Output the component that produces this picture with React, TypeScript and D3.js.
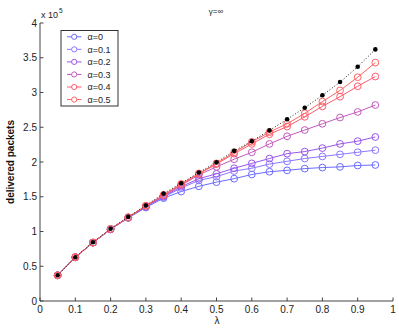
import React from 'react';
import * as d3 from 'd3';

const lambdas = [0.05, 0.1, 0.15, 0.2, 0.25, 0.3, 0.35, 0.4, 0.45, 0.5, 0.55, 0.6, 0.65, 0.7, 0.75, 0.8, 0.85, 0.9, 0.95];

const alphaLabels = ['α=0', 'α=0.1', 'α=0.2', 'α=0.3', 'α=0.4', 'α=0.5'];
const alphaColors = ['#6b6bff', '#8a78ff', '#9a55e8', '#c25abd', '#ff5a6e', '#ff6262'];

// delivered packets (x 10^5)
const alpha0 = [0.37, 0.63, 0.84, 1.03, 1.195, 1.345, 1.48, 1.575, 1.65, 1.71, 1.76, 1.82, 1.86, 1.88, 1.905, 1.92, 1.93, 1.95, 1.957];
const alpha01 = [0.37, 0.63, 0.84, 1.03, 1.2, 1.355, 1.495, 1.625, 1.735, 1.79, 1.87, 1.91, 1.97, 2.01, 2.05, 2.08, 2.11, 2.14, 2.17];
const alpha02 = [0.37, 0.63, 0.84, 1.035, 1.2, 1.36, 1.505, 1.645, 1.76, 1.83, 1.91, 1.98, 2.05, 2.12, 2.15, 2.2, 2.26, 2.3, 2.36];
const alpha03 = [0.37, 0.63, 0.84, 1.035, 1.2, 1.365, 1.515, 1.665, 1.815, 1.93, 2.04, 2.14, 2.26, 2.37, 2.46, 2.55, 2.64, 2.72, 2.82];
const alpha04 = [0.37, 0.63, 0.84, 1.035, 1.205, 1.37, 1.52, 1.675, 1.83, 1.97, 2.12, 2.26, 2.4, 2.51, 2.65, 2.8, 2.94, 3.09, 3.23];
const alpha05 = [0.37, 0.63, 0.84, 1.035, 1.205, 1.37, 1.525, 1.685, 1.835, 1.98, 2.14, 2.29, 2.43, 2.55, 2.7, 2.87, 3.03, 3.22, 3.43];
const upperBound = [0.37, 0.63, 0.845, 1.04, 1.21, 1.375, 1.545, 1.695, 1.85, 1.995, 2.16, 2.3, 2.455, 2.615, 2.78, 2.96, 3.15, 3.37, 3.62];

const seriesList = [alpha0, alpha01, alpha02, alpha03, alpha04, alpha05];

const xTicks = [0, 0.1, 0.2, 0.3, 0.4, 0.5, 0.6, 0.7, 0.8, 0.9, 1];
const yTicks = [0, 0.5, 1, 1.5, 2, 2.5, 3, 3.5, 4];

const W = 399;
const H = 330;
const FONT = '"Liberation Sans", Arial, sans-serif';

export default function App() {
  const x = d3.scaleLinear().domain([0, 1]).range([40, 393]);
  const y = d3.scaleLinear().domain([0, 4]).range([301, 23]);
  const axisColor = '#444';

  const line = d3.line<number>()
    .x((_, i) => x(lambdas[i]))
    .y(d => y(d));

  const legendX = 61;
  const legendY = 30.5;

  return (
    <svg width={W} height={H} style={{ position: 'absolute', left: 0, top: 0, background: '#fff' }} fontFamily={FONT}>
      {/* axes */}
      <line x1={x(0)} x2={x(1)} y1={y(0)} y2={y(0)} stroke={axisColor} strokeWidth={1} />
      <line x1={x(0)} x2={x(0)} y1={y(0)} y2={y(4)} stroke={axisColor} strokeWidth={1} />
      {xTicks.map(t => (
        <g key={'xt' + t}>
          <line x1={x(t)} x2={x(t)} y1={y(0)} y2={y(0) - 3.5} stroke={axisColor} />
          <text x={x(t)} y={y(0) + 12} fontSize={10} textAnchor="middle" fill="#222">{t}</text>
        </g>
      ))}
      {yTicks.map(t => (
        <g key={'yt' + t}>
          <line x1={x(0)} x2={x(0) + 3.5} y1={y(t)} y2={y(t)} stroke={axisColor} />
          <text x={x(0) - 3} y={y(t) + 3.5} fontSize={10} textAnchor="end" fill="#222">{t}</text>
        </g>
      ))}
      <text x={41} y={18} fontSize={9} fill="#222">x 10</text>
      <text x={59} y={13} fontSize={6.5} fill="#222">5</text>

      {/* title and labels */}
      <text x={216} y={14} fontSize={8} textAnchor="middle" fill="#222">γ=∞</text>
      <text x={217} y={324} fontSize={10} textAnchor="middle" fill="#222">λ</text>
      <text transform={`translate(14,${y(2)}) rotate(-90)`} fontSize={10} fontWeight="bold" textAnchor="middle" fill="#111">delivered packets</text>

      {/* series */}
      {seriesList.map((s, k) => (
        <g key={'s' + k}>
          <path d={line(s) || ''} fill="none" stroke={alphaColors[k]} strokeWidth={1} />
          {s.map((v, i) => (
            <circle key={i} cx={x(lambdas[i])} cy={y(v)} r={3.4} fill="none" stroke={alphaColors[k]} strokeWidth={1} />
          ))}
        </g>
      ))}
      <path d={line(upperBound) || ''} fill="none" stroke="#222" strokeWidth={1} strokeDasharray="1,2" />
      {upperBound.map((v, i) => (
        <circle key={'ub' + i} cx={x(lambdas[i])} cy={y(v)} r={2.3} fill="#000" />
      ))}

      {/* legend */}
      <rect x={legendX} y={legendY} width={57} height={75.5} fill="#fff" stroke="#333" strokeWidth={1} />
      {alphaLabels.map((lab, k) => {
        const ly = legendY + 6.3 + k * 12.55;
        return (
          <g key={'lg' + k}>
            <line x1={legendX + 6} x2={legendX + 20.5} y1={ly} y2={ly} stroke={alphaColors[k]} strokeWidth={1} />
            <circle cx={legendX + 13.2} cy={ly} r={2.6} fill="#fff" stroke={alphaColors[k]} strokeWidth={1} />
            <text x={legendX + 26.5} y={ly + 3.2} fontSize={9} fill="#222">{lab}</text>
          </g>
        );
      })}
    </svg>
  );
}
